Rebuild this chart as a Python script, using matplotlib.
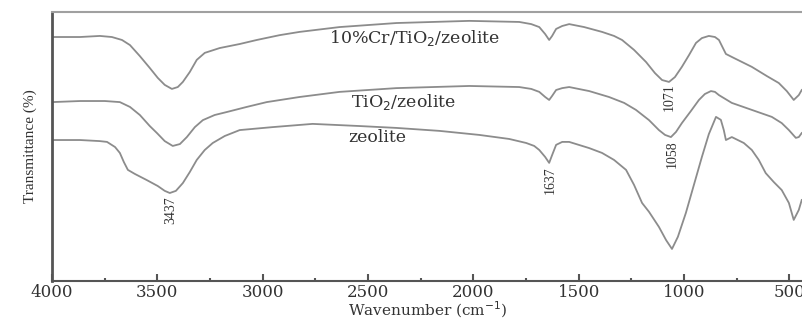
import numpy as np
import matplotlib
matplotlib.use('Agg')
from matplotlib import pyplot as plt
from matplotlib.ticker import MultipleLocator

# FTIR spectra (wavenumber in cm-1, transmittance in %, traces offset)
wn_cr = [4000, 3867, 3773, 3716, 3668, 3630, 3583, 3536, 3498, 3465,
         3431, 3403, 3379, 3346, 3313, 3275, 3204, 3109, 3028, 2919,
         2825, 2635, 2365, 2019, 1782, 1725, 1687, 1659, 1640, 1626,
         1607, 1578, 1545, 1474, 1389, 1332, 1294, 1237, 1180, 1138,
         1104, 1071, 1043, 1010, 976, 943, 915, 882, 853, 834,
         815, 801, 763, 678, 607, 550, 512, 479, 455, 441]
t_cr = [90.7, 90.7, 91.1, 90.7, 89.6, 87.7, 83.6, 79.2, 75.5, 72.9,
        71.4, 72.1, 74.0, 77.7, 82.2, 84.8, 86.6, 88.1, 89.6, 91.4,
        92.6, 94.4, 95.9, 96.7, 96.3, 95.5, 94.4, 91.8, 89.6, 91.1,
        93.7, 94.8, 95.5, 94.4, 92.6, 91.1, 89.6, 85.9, 81.4, 77.3,
        74.7, 74.0, 75.8, 79.6, 84.0, 88.5, 90.3, 91.1, 90.7, 89.6,
        86.6, 84.4, 82.9, 79.6, 76.2, 73.6, 70.6, 67.3, 69.1, 71.0]

wn_ti = [4000, 3867, 3749, 3678, 3630, 3583, 3536, 3502, 3465, 3427,
         3393, 3360, 3322, 3284, 3228, 3171, 3076, 2981, 2825, 2635,
         2365, 2019, 1782, 1725, 1687, 1659, 1640, 1626, 1607, 1578,
         1545, 1450, 1356, 1284, 1228, 1166, 1119, 1090, 1062, 1038,
         1010, 967, 929, 901, 872, 853, 834, 773, 678, 583,
         536, 502, 469, 455, 441]
t_ti = [66.5, 66.9, 66.9, 66.5, 64.7, 61.7, 57.6, 55.0, 52.0, 50.2,
        50.9, 53.5, 57.2, 59.8, 61.7, 62.8, 64.7, 66.5, 68.4, 70.3,
        71.7, 72.5, 72.1, 71.4, 70.3, 68.4, 67.3, 68.8, 71.0, 71.7,
        72.1, 70.6, 68.4, 66.2, 63.6, 59.8, 56.1, 54.3, 53.5, 55.4,
        58.7, 63.2, 67.3, 69.5, 70.6, 70.3, 69.1, 66.2, 63.6, 61.0,
        58.7, 56.1, 53.2, 53.5, 55.0]

wn_ze = [4000, 3867, 3773, 3739, 3701, 3678, 3659, 3640, 3607, 3550,
         3498, 3465, 3441, 3412, 3379, 3346, 3313, 3275, 3237, 3180,
         3109, 2953, 2763, 2540, 2365, 2161, 1972, 1830, 1749, 1711,
         1687, 1659, 1640, 1626, 1607, 1578, 1545, 1450, 1389, 1332,
         1275, 1237, 1199, 1166, 1119, 1085, 1057, 1029, 991, 953,
         915, 882, 848, 825, 811, 801, 773, 716, 678, 645,
         612, 574, 536, 502, 479, 455, 441]
t_ze = [52.4, 52.4, 52.0, 51.7, 49.8, 47.6, 44.2, 41.3, 39.8, 37.5,
        35.3, 33.5, 32.7, 33.5, 36.4, 40.5, 45.0, 48.7, 51.3, 53.9,
        56.1, 57.2, 58.4, 57.6, 56.9, 55.8, 54.3, 52.8, 51.3, 50.2,
        48.7, 46.1, 43.9, 46.8, 50.6, 51.7, 51.7, 49.4, 47.6, 45.0,
        41.3, 35.7, 29.0, 25.7, 20.1, 15.2, 11.9, 16.4, 25.3, 35.7,
        46.1, 54.6, 61.0, 59.9, 56.1, 52.4, 53.5, 51.3, 48.7, 45.0,
        40.1, 36.8, 33.8, 29.0, 22.7, 26.4, 30.1]

# sample names and where they sit
names = ['10%Cr/TiO$_2$/zeolite', 'TiO$_2$/zeolite', 'zeolite']
name_x = [2280, 2330, 2455]
name_y = [90.3, 66.5, 53.2]

# marked bands and label heights
peaks = ['3437', '1637', '1071', '1058']
peak_x = [3437, 1637, 1071, 1058]
peak_y = [26.4, 37.5, 68.4, 47.2]

serif = ['DejaVu Serif']
lc = '#8c8c8c'
tc = '#333333'

fig = plt.figure(figsize=(8.03, 3.2), dpi=100)
ax = fig.add_axes([0.0648, 0.122, 0.9352, 0.8405])

ax.plot(wn_cr, t_cr, color=lc, lw=1.3)
ax.plot(wn_ti, t_ti, color=lc, lw=1.3)
ax.plot(wn_ze, t_ze, color=lc, lw=1.3)

for nm, x, y in zip(names, name_x, name_y):
    ax.text(x, y, nm, ha='center', va='center', fontsize=12.5, family=serif, color=tc)

for p, x, y in zip(peaks, peak_x, peak_y):
    ax.text(x, y, p, rotation=90, ha='center', va='center', fontsize=10,
            family=['Liberation Serif'], color=tc)

ax.set_xlim(4000, 435)
ax.set_ylim(0, 100)

ax.xaxis.set_major_locator(MultipleLocator(500))
ax.xaxis.set_minor_locator(MultipleLocator(250))
ax.tick_params(axis='x', which='major', direction='in', length=5, width=1.5, colors='#555555',
               labelcolor=tc, labelsize=12, pad=2)
ax.tick_params(axis='x', which='minor', direction='in', length=2, width=1.5, colors='#555555')
for lab in ax.get_xticklabels():
    lab.set_family(serif)
ax.set_yticks([])

ax.spines['right'].set_visible(False)
ax.spines['left'].set_color('#555555')
ax.spines['left'].set_linewidth(2)
ax.spines['bottom'].set_color('#555555')
ax.spines['bottom'].set_linewidth(1.5)
ax.spines['top'].set_color('#a0a0a0')
ax.spines['top'].set_linewidth(1.5)

ax.set_xlabel('Wavenumber (cm$^{-1}$)', family=serif, fontsize=11, color=tc, labelpad=-1)
ax.set_ylabel('Transmittance (%)', family=['Liberation Serif'], fontsize=11, color=tc, labelpad=11)

fig.savefig('out.png', dpi=100)
